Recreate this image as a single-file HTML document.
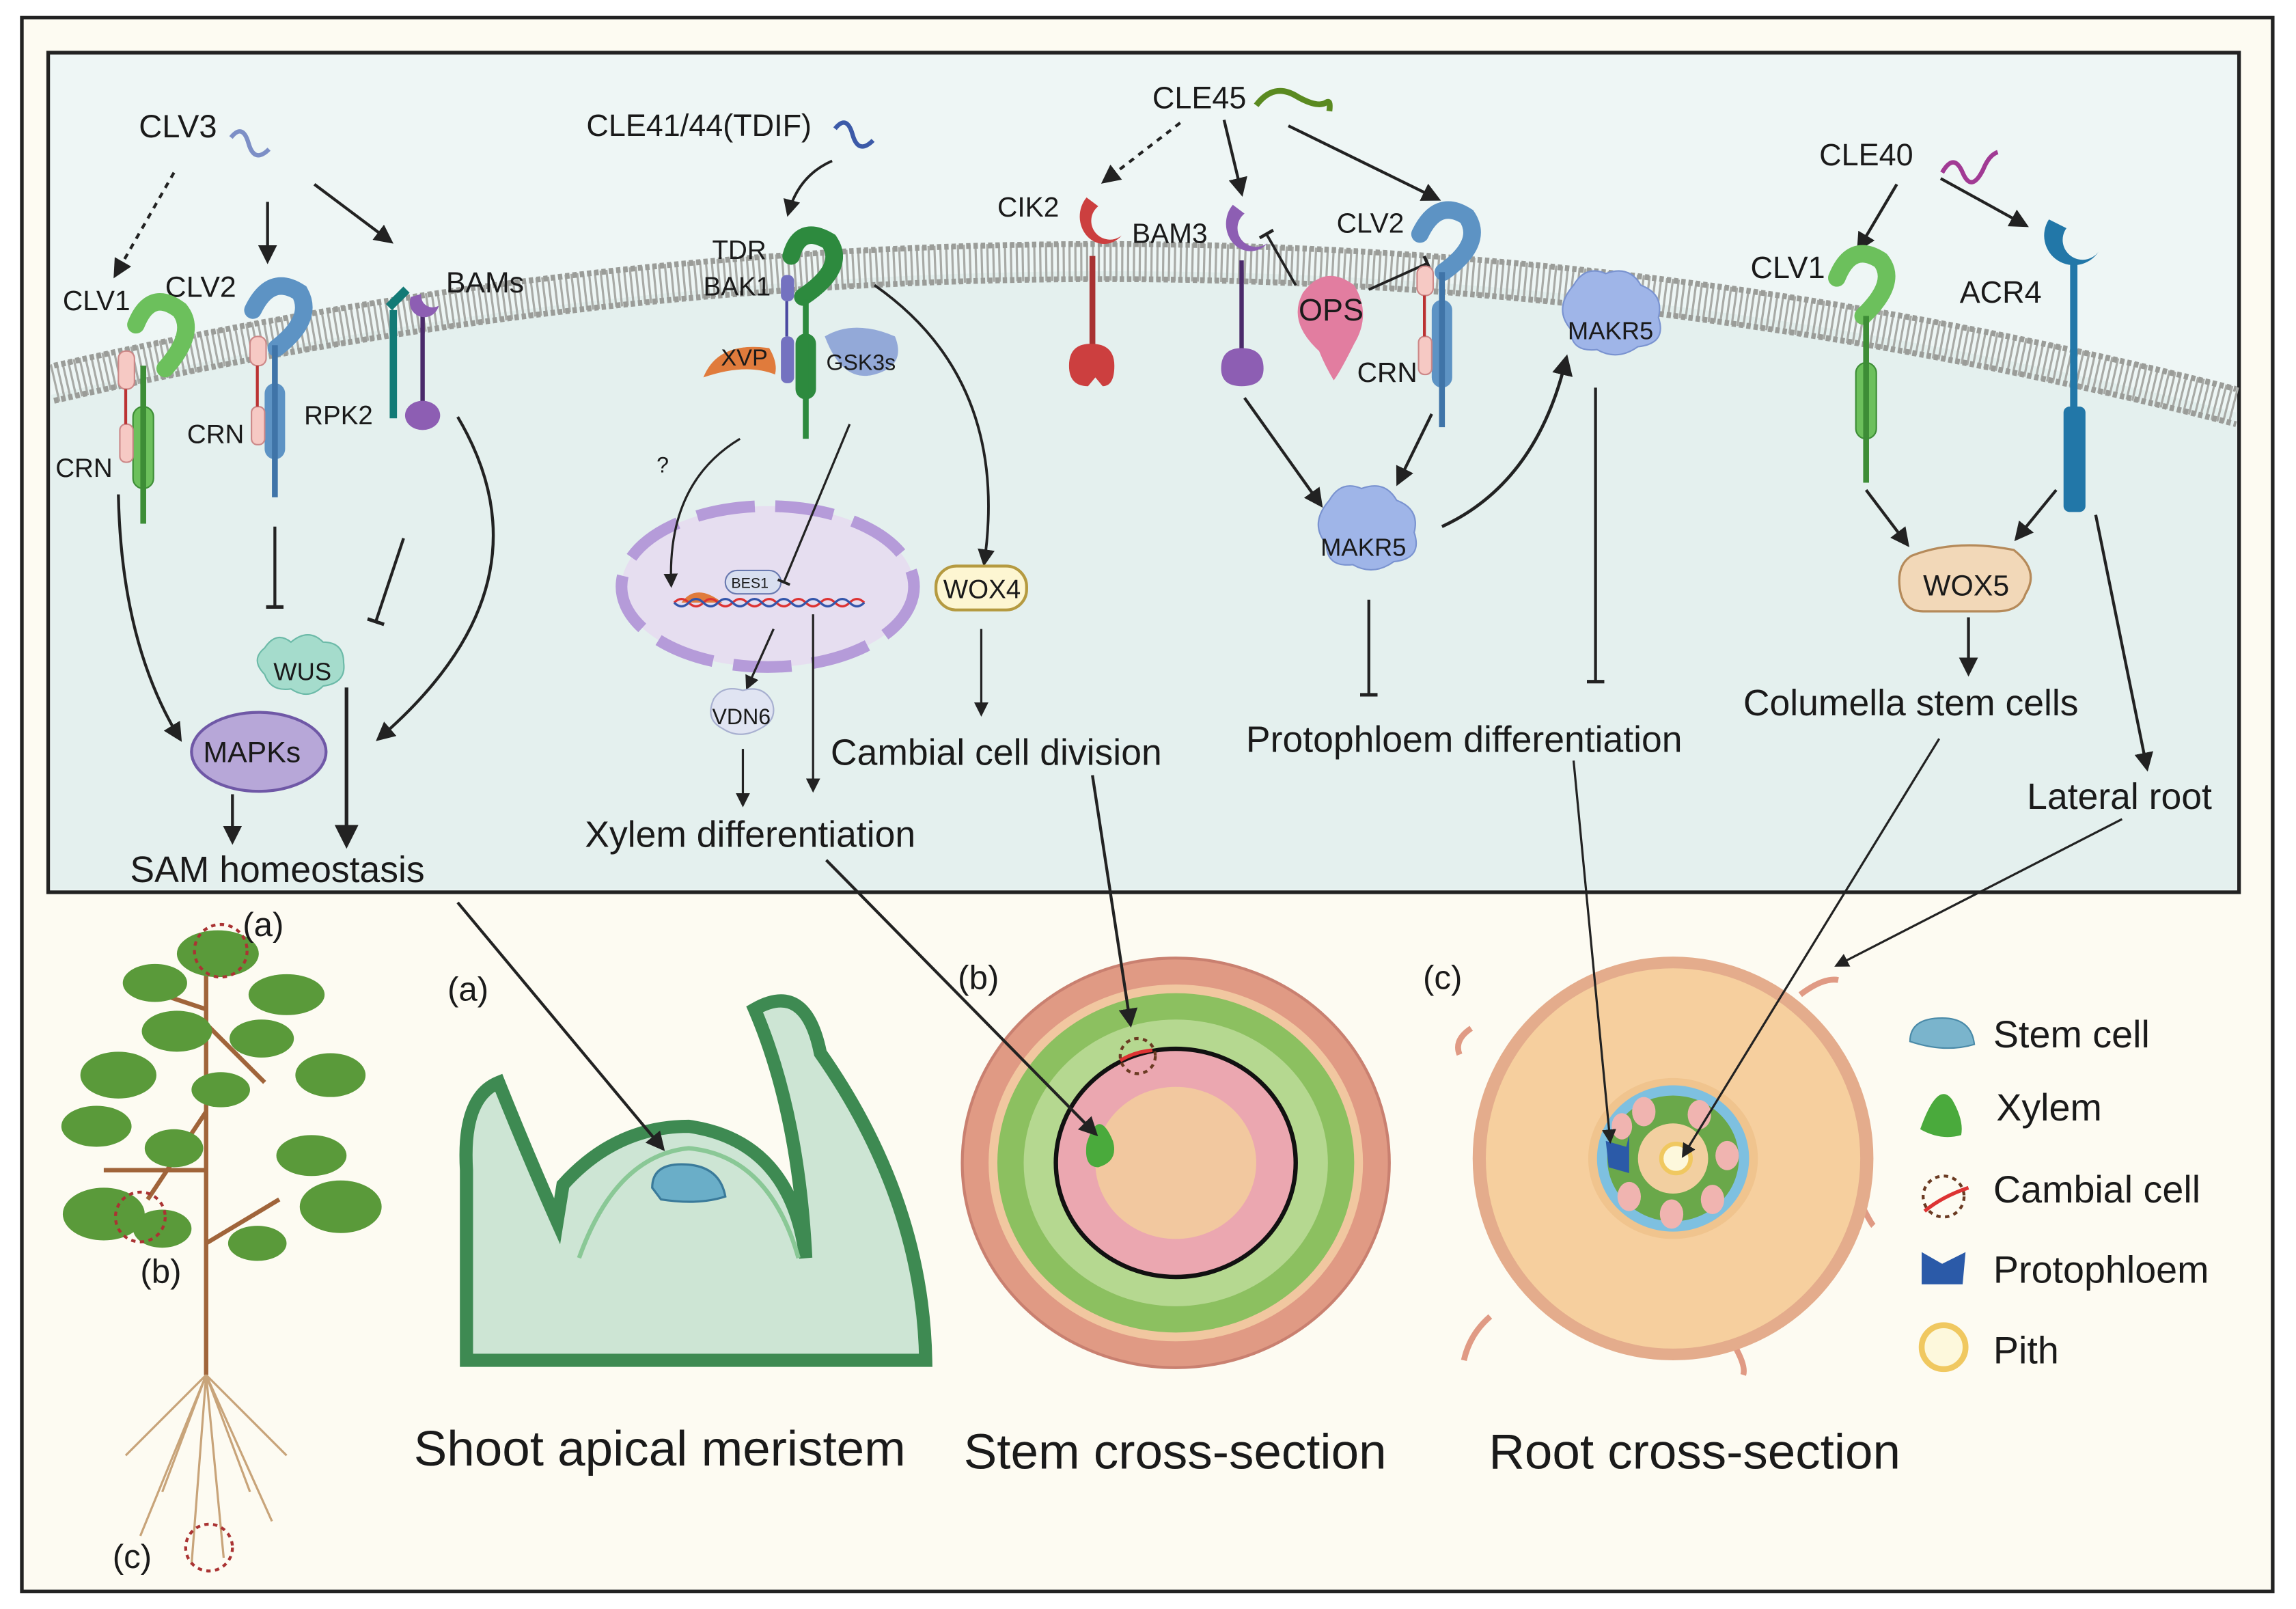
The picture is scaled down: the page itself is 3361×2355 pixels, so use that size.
<!DOCTYPE html>
<html><head><meta charset="utf-8"><style>
html,body{margin:0;padding:0;background:#fff;}
svg{display:block;}
text{font-family:"Liberation Sans",sans-serif;fill:#1a1a1a;}
</style></head><body>
<svg width="3361" height="2355" viewBox="0 0 1568 1100" xmlns="http://www.w3.org/2000/svg">
<defs>
<marker id="ah" viewBox="0 0 10 10" refX="8" refY="5" markerWidth="6.5" markerHeight="6.5" orient="auto"><path d="M0,0 L10,5 L0,10z" fill="#222"/></marker>
<marker id="tb" viewBox="0 0 10 10" refX="5" refY="5" markerWidth="6" markerHeight="6" orient="auto"><path d="M5,0 L5,10" stroke="#222" stroke-width="2"/></marker>
</defs>
<rect x="0" y="0" width="1568" height="1100" fill="#fff"/>
<rect x="14" y="12" width="1539" height="1076" fill="#fdfbf2" stroke="#222" stroke-width="2.5"/>
<rect x="32" y="36" width="1498" height="574" fill="#eef6f5" stroke="#222" stroke-width="2.5"/>
<path d="M34,270 Q790,95 1528,282 L1528,608 L34,608 Z" fill="#e4f0ee"/>
<path d="M36,262 Q790,88 1528,278" fill="none" stroke="#a8aaa6" stroke-width="26" stroke-dasharray="1.5 2.5"/>
<path d="M36,250 Q790,76 1528,266" fill="none" stroke="#9a9c98" stroke-width="4" stroke-dasharray="3 2"/>
<path d="M36,274 Q790,100 1528,290" fill="none" stroke="#9a9c98" stroke-width="4" stroke-dasharray="3 2"/>

<!-- CLV3 section -->
<text x="94" y="94" font-size="22">CLV3</text>
<path d="M157,94 q8,-10 12,4 q4,14 14,4" fill="none" stroke="#7d8fc6" stroke-width="3"/>
<path d="M118,118 L78,188" stroke="#222" stroke-width="2" stroke-dasharray="4 4" marker-end="url(#ah)"/>
<path d="M182,138 L182,178" stroke="#222" stroke-width="2" marker-end="url(#ah)"/>
<path d="M214,126 L266,165" stroke="#222" stroke-width="2" marker-end="url(#ah)"/>
<text x="42" y="212" font-size="19">CLV1</text>
<text x="112" y="203" font-size="20">CLV2</text>
<text x="304" y="200" font-size="20">BAMs</text>
<text x="37" y="326" font-size="18">CRN</text>
<text x="127" y="303" font-size="18">CRN</text>
<text x="207" y="290" font-size="18">RPK2</text>
<path d="M92,222 q10,-25 30,-10 q12,15 -10,40" fill="none" stroke="#6cc05c" stroke-width="12" stroke-linecap="round"/>
<rect x="90" y="278" width="14" height="56" rx="7" fill="#6cc05c" stroke="#3d8d36"/>
<path d="M97,250 L97,358" stroke="#3d8d36" stroke-width="4"/>
<rect x="80" y="240" width="11" height="26" rx="5" fill="#f6c9c4" stroke="#c88"/>
<rect x="81" y="290" width="9" height="26" rx="4" fill="#f6c9c4" stroke="#c88"/>
<path d="M85,266 L85,290" stroke="#b33" stroke-width="2"/>
<path d="M172,212 q12,-25 32,-12 q10,18 -16,38" fill="none" stroke="#5d93c4" stroke-width="12" stroke-linecap="round"/>
<rect x="180" y="262" width="14" height="52" rx="7" fill="#5d93c4"/>
<path d="M187,236 L187,340" stroke="#3f74a8" stroke-width="4"/>
<rect x="170" y="230" width="11" height="20" rx="5" fill="#f6c9c4" stroke="#c88"/>
<rect x="171" y="278" width="9" height="26" rx="4" fill="#f6c9c4" stroke="#c88"/>
<path d="M175,250 L175,278" stroke="#b33" stroke-width="2"/>
<path d="M268,212 L268,286" stroke="#127a76" stroke-width="5"/>
<path d="M265,210 l12,-12" stroke="#127a76" stroke-width="6"/>
<path d="M288,214 L288,282" stroke="#4a2a6a" stroke-width="3"/>
<path d="M280,203 a10,10 0 1 0 19,6 a8,8 0 0 1 -12,-8 z" fill="#8d5eb3"/>
<ellipse cx="288" cy="284" rx="12" ry="10" fill="#8d5eb3"/>
<path d="M80,338 Q82,440 122,505" fill="none" stroke="#222" stroke-width="2" marker-end="url(#ah)"/>
<path d="M187,360 L187,415" stroke="#222" stroke-width="2" marker-end="url(#tb)"/>
<path d="M275,368 L256,425" stroke="#222" stroke-width="2" marker-end="url(#tb)"/>
<path d="M312,285 Q380,400 258,505" fill="none" stroke="#222" stroke-width="2" marker-end="url(#ah)"/>
<path d="M180,443 q8,-12 18,-4 q12,-10 22,0 q14,0 14,14 q2,14 -14,16 q-10,10 -22,2 q-14,2 -18,-10 q-10,-10 0,-18z" fill="#a5dccc" stroke="#6cbaa8"/>
<text x="186" y="465" font-size="17">WUS</text>
<ellipse cx="176" cy="514" rx="46" ry="27" fill="#b7a7d8" stroke="#6f58a6" stroke-width="2"/>
<text x="138" y="521" font-size="20">MAPKs</text>
<path d="M158,543 L158,575" stroke="#222" stroke-width="2" marker-end="url(#ah)"/>
<path d="M236,470 L236,577" stroke="#222" stroke-width="2.5" marker-end="url(#ah)"/>
<text x="88" y="603" font-size="25">SAM homeostasis</text>

<!-- TDIF -->
<text x="400" y="93" font-size="21">CLE41/44(TDIF)</text>
<path d="M570,88 q8,-10 12,4 q4,14 14,4" fill="none" stroke="#3c5aa8" stroke-width="3"/>
<path d="M568,110 Q545,120 538,146" fill="none" stroke="#222" stroke-width="1.8" marker-end="url(#ah)"/>
<text x="486" y="177" font-size="18">TDR</text>
<text x="480" y="202" font-size="18">BAK1</text>
<path d="M540,175 q6,-22 26,-10 q12,18 -18,38" fill="none" stroke="#2d8a3e" stroke-width="12" stroke-linecap="round"/>
<rect x="543" y="228" width="14" height="45" rx="7" fill="#2d8a3e"/>
<path d="M550,205 L550,300" stroke="#2d8a3e" stroke-width="4"/>
<rect x="533" y="188" width="9" height="18" rx="4" fill="#7472c0"/>
<rect x="533" y="230" width="9" height="32" rx="4" fill="#7472c0"/>
<path d="M537,206 L537,230" stroke="#4a48a0" stroke-width="2"/>
<path d="M480,258 q10,-25 45,-20 q6,10 4,18 q-20,-8 -49,2z" fill="#e07b3c"/>
<text x="492" y="250" font-size="16">XVP</text>
<path d="M563,230 q20,-12 48,0 q8,20 -14,26 q-22,6 -34,-26z" fill="#93a9d8"/>
<text x="564" y="253" font-size="15">GSK3s</text>
<ellipse cx="524" cy="401" rx="100" ry="55" fill="#e6def0" stroke="#b59bd9" stroke-width="8" stroke-dasharray="40 14"/>
<path d="M465,412 q10,-14 28,0" fill="#e07b3c"/>
<rect x="495" y="390" width="38" height="16" rx="8" fill="#d8dff0" stroke="#6a7ab0"/>
<text x="499" y="402" font-size="10">BES1</text>
<path d="M460,412 q5,-5 10,0 t10,0 t10,0 t10,0 t10,0 t10,0 t10,0 t10,0 t10,0 t10,0 t10,0 t10,0 t10,0" fill="none" stroke="#d33" stroke-width="1.5"/>
<path d="M460,412 q5,5 10,0 t10,0 t10,0 t10,0 t10,0 t10,0 t10,0 t10,0 t10,0 t10,0 t10,0 t10,0 t10,0" fill="none" stroke="#35a" stroke-width="1.5"/>
<path d="M505,300 Q455,330 458,400" fill="none" stroke="#222" stroke-width="1.5" marker-end="url(#ah)"/>
<text x="448" y="323" font-size="15">?</text>
<path d="M580,290 L535,398" stroke="#222" stroke-width="1.5" marker-end="url(#tb)"/>
<path d="M597,195 Q690,260 672,385" fill="none" stroke="#222" stroke-width="1.8" marker-end="url(#ah)"/>
<rect x="639" y="387" width="62" height="30" rx="14" fill="#fdf6d2" stroke="#b59a40" stroke-width="2"/>
<text x="644" y="409" font-size="18">WOX4</text>
<path d="M528,430 L510,470" stroke="#222" stroke-width="1.5" marker-end="url(#ah)"/>
<path d="M487,478 q6,-10 20,-6 q14,-4 20,8 q4,12 -8,18 q-14,8 -26,0 q-12,-6 -6,-20z" fill="#e0e4f2" stroke="#a8b0d0"/>
<text x="486" y="495" font-size="15">VDN6</text>
<path d="M507,512 L507,550" stroke="#222" stroke-width="1.5" marker-end="url(#ah)"/>
<path d="M555,420 L555,540" stroke="#222" stroke-width="1.5" marker-end="url(#ah)"/>
<path d="M670,430 L670,488" stroke="#222" stroke-width="1.5" marker-end="url(#ah)"/>
<text x="567" y="523" font-size="25">Cambial cell division</text>
<text x="399" y="579" font-size="25">Xylem differentiation</text>

<!-- CLE45 -->
<text x="787" y="74" font-size="21">CLE45</text>
<path d="M858,72 q12,-16 28,-6 q14,8 20,4 q3,-2 2,6" fill="none" stroke="#5a8a20" stroke-width="4"/>
<path d="M806,84 L754,124" stroke="#222" stroke-width="2" stroke-dasharray="4 4" marker-end="url(#ah)"/>
<path d="M836,82 L848,132" stroke="#222" stroke-width="2" marker-end="url(#ah)"/>
<path d="M880,86 L982,136" stroke="#222" stroke-width="2" marker-end="url(#ah)"/>
<text x="681" y="148" font-size="19">CIK2</text>
<text x="773" y="166" font-size="19">BAM3</text>
<text x="913" y="159" font-size="19">CLV2</text>
<text x="927" y="261" font-size="19">CRN</text>
<path d="M742,135 a16,18 0 1 0 24,26 a12,12 0 0 1 -16,-20z" fill="#cc3f3f"/>
<path d="M746,175 L746,238" stroke="#a83232" stroke-width="4"/>
<path d="M730,250 q0,-15 15,-15 q16,0 16,15 q0,14 -8,14 l-5,-6 l-5,6 q-13,0 -13,-14z" fill="#cc3f3f"/>
<path d="M842,140 a16,18 0 1 0 24,26 a12,12 0 0 1 -16,-20z" fill="#8d5eb3"/>
<path d="M848,178 L848,240" stroke="#4a2a6a" stroke-width="3"/>
<path d="M834,252 q0,-14 14,-14 q15,0 15,14 q0,12 -15,12 q-14,0 -14,-12z" fill="#8d5eb3"/>
<path d="M890,200 q15,-20 35,-5 q12,20 0,40 q-10,20 -14,25 q-6,-10 -10,-20 q-22,-20 -11,-40z" fill="#e27da0"/>
<text x="887" y="219" font-size="21">OPS</text>
<path d="M865,160 L885,195" stroke="#222" stroke-width="1.8" marker-start="url(#tb)"/>
<path d="M975,180 L935,198" stroke="#222" stroke-width="1.8" marker-start="url(#tb)"/>
<path d="M970,160 q12,-25 32,-12 q12,18 -16,38" fill="none" stroke="#5d93c4" stroke-width="12" stroke-linecap="round"/>
<rect x="978" y="205" width="14" height="60" rx="7" fill="#5d93c4"/>
<path d="M985,186 L985,292" stroke="#3f74a8" stroke-width="4"/>
<rect x="968" y="182" width="11" height="20" rx="5" fill="#f6c9c4" stroke="#c88"/>
<rect x="969" y="230" width="9" height="26" rx="4" fill="#f6c9c4" stroke="#c88"/>
<path d="M973,202 L973,230" stroke="#b33" stroke-width="2"/>
<path d="M1075,195 q8,-14 22,-8 q16,-6 24,8 q16,6 12,22 q6,18 -14,20 q-14,10 -28,2 q-18,2 -18,-14 q-12,-14 2,-30z" fill="#9fb5e8" stroke="#7a93d0"/>
<text x="1071" y="232" font-size="17">MAKR5</text>
<path d="M908,342 q8,-14 22,-8 q16,-6 24,8 q16,6 12,22 q6,18 -14,20 q-14,10 -28,2 q-18,2 -18,-14 q-12,-14 2,-30z" fill="#9fb5e8" stroke="#7a93d0"/>
<text x="902" y="380" font-size="17">MAKR5</text>
<path d="M850,272 L902,345" stroke="#222" stroke-width="2" marker-end="url(#ah)"/>
<path d="M978,283 L955,330" stroke="#222" stroke-width="2" marker-end="url(#ah)"/>
<path d="M985,360 Q1050,330 1070,245" fill="none" stroke="#222" stroke-width="2.2" marker-end="url(#ah)"/>
<path d="M935,410 L935,475" stroke="#222" stroke-width="2" marker-end="url(#tb)"/>
<path d="M1090,265 L1090,466" stroke="#222" stroke-width="2" marker-end="url(#tb)"/>
<text x="851" y="514" font-size="25">Protophloem differentiation</text>

<!-- CLE40 -->
<text x="1243" y="113" font-size="21">CLE40</text>
<path d="M1327,118 q8,-14 14,0 q6,14 14,-2 q4,-10 10,-12" fill="none" stroke="#a13a94" stroke-width="3"/>
<path d="M1296,126 L1270,170" stroke="#222" stroke-width="2" marker-end="url(#ah)"/>
<path d="M1326,122 L1384,154" stroke="#222" stroke-width="2" marker-end="url(#ah)"/>
<text x="1196" y="190" font-size="21">CLV1</text>
<text x="1339" y="207" font-size="21">ACR4</text>
<path d="M1255,190 q10,-25 30,-12 q12,15 -12,38" fill="none" stroke="#6cc05c" stroke-width="12" stroke-linecap="round"/>
<rect x="1268" y="248" width="14" height="52" rx="7" fill="#6cc05c" stroke="#3d8d36"/>
<path d="M1275,216 L1275,330" stroke="#3d8d36" stroke-width="4"/>
<path d="M1400,150 a20,20 0 1 0 34,22 a12,12 0 0 1 -22,-16 z" fill="#2277a8"/>
<path d="M1417,180 L1417,280" stroke="#2277a8" stroke-width="5"/>
<rect x="1410" y="278" width="15" height="72" rx="4" fill="#2277a8"/>
<path d="M1275,335 L1303,372" stroke="#222" stroke-width="2" marker-end="url(#ah)"/>
<path d="M1405,335 L1378,368" stroke="#222" stroke-width="2" marker-end="url(#ah)"/>
<path d="M1306,380 q30,-12 70,-4 q18,14 8,30 q-4,12 -20,12 l-50,0 q-14,0 -16,-16 q-2,-16 8,-22z" fill="#f2d8b8" stroke="#b58a5a" stroke-width="1.5"/>
<text x="1314" y="407" font-size="20">WOX5</text>
<path d="M1345,422 L1345,460" stroke="#222" stroke-width="2" marker-end="url(#ah)"/>
<text x="1191" y="489" font-size="25">Columella stem cells</text>
<path d="M1432,352 L1467,525" stroke="#222" stroke-width="2" marker-end="url(#ah)"/>
<text x="1385" y="553" font-size="25">Lateral root</text>

<!-- plant -->
<g>
<path d="M140,640 L140,940 M140,760 L100,820 M140,700 L180,740 M140,850 L190,820 M140,690 L110,680 M140,800 L70,800" stroke="#a0643a" stroke-width="3" fill="none"/>
<g fill="#5a9a3a">
<ellipse cx="148" cy="652" rx="28" ry="16"/><ellipse cx="105" cy="672" rx="22" ry="13"/><ellipse cx="195" cy="680" rx="26" ry="14"/>
<ellipse cx="120" cy="705" rx="24" ry="14"/><ellipse cx="178" cy="710" rx="22" ry="13"/><ellipse cx="80" cy="735" rx="26" ry="16"/>
<ellipse cx="225" cy="735" rx="24" ry="15"/><ellipse cx="150" cy="745" rx="20" ry="12"/><ellipse cx="65" cy="770" rx="24" ry="14"/>
<ellipse cx="118" cy="785" rx="20" ry="13"/><ellipse cx="212" cy="790" rx="24" ry="14"/><ellipse cx="70" cy="830" rx="28" ry="18"/>
<ellipse cx="232" cy="825" rx="28" ry="18"/><ellipse cx="175" cy="850" rx="20" ry="12"/><ellipse cx="110" cy="840" rx="20" ry="13"/>
</g>
<path d="M140,940 l-30,80 M140,940 l30,80 M140,940 l-55,55 M140,940 l55,55 M140,940 l-10,130 M140,940 l12,125 M140,940 l-45,110 M140,940 l45,100" stroke="#c8a47a" stroke-width="1.5" fill="none"/>
<circle cx="150" cy="650" r="18" fill="none" stroke="#a33" stroke-width="2" stroke-dasharray="3 3"/>
<circle cx="95" cy="832" r="17" fill="none" stroke="#a33" stroke-width="2" stroke-dasharray="3 3"/>
<circle cx="142" cy="1058" r="16" fill="none" stroke="#a33" stroke-width="2" stroke-dasharray="3 3"/>
<text x="165" y="640" font-size="23">(a)</text>
<text x="95" y="877" font-size="23">(b)</text>
<text x="76" y="1072" font-size="23">(c)</text>
</g>

<!-- SAM -->
<path d="M318,930 L318,800 Q315,750 340,740 Q360,790 380,835 L384,810 Q420,770 470,770 Q540,780 550,860 Q545,760 515,690 Q550,670 560,720 Q630,820 632,930 Z" fill="#cde5d4" stroke="#3e8a52" stroke-width="9"/>
<path d="M395,860 Q420,790 470,785 Q525,790 545,860" fill="none" stroke="#8ac896" stroke-width="3"/>
<path d="M445,812 q0,-16 20,-16 q26,0 30,22 q-18,6 -44,2z" fill="#6aaec8" stroke="#3a7a9a" stroke-width="1.5"/>
<text x="305" y="684" font-size="23">(a)</text>
<text x="282" y="1002" font-size="34">Shoot apical meristem</text>

<!-- stem -->
<text x="654" y="676" font-size="23">(b)</text>
<ellipse cx="803" cy="795" rx="146" ry="140" fill="#e09a84" stroke="#c98070" stroke-width="2"/>
<ellipse cx="803" cy="795" rx="128" ry="122" fill="#f1c7a0"/>
<ellipse cx="803" cy="795" rx="122" ry="116" fill="#8cc060"/>
<ellipse cx="803" cy="795" rx="104" ry="98" fill="#b5d890"/>
<ellipse cx="803" cy="795" rx="82" ry="78" fill="#eba7b0" stroke="#111" stroke-width="3"/>
<ellipse cx="803" cy="795" rx="55" ry="52" fill="#f2c89f"/>
<path d="M742,782 q8,-26 18,-2 q4,14 -10,18 q-10,0 -8,-16z" fill="#4aaa3c"/>
<path d="M765,725 q10,-6 22,-7" stroke="#d33" stroke-width="2.5" fill="none"/>
<circle cx="777" cy="722" r="12" fill="none" stroke="#6a3a22" stroke-width="2" stroke-dasharray="3 3"/>
<text x="658" y="1004" font-size="34">Stem cross-section</text>

<!-- root -->
<text x="972" y="676" font-size="23">(c)</text>
<path d="M1005,703 q-12,8 -8,18 M1230,680 q16,-12 26,-10 M1270,820 q8,16 10,18 M1018,900 q-14,12 -18,30 M1185,920 q8,14 6,20" stroke="#e09a84" stroke-width="4" fill="none"/>
<ellipse cx="1143" cy="792" rx="137" ry="138" fill="#e4ac8c"/>
<ellipse cx="1143" cy="792" rx="128" ry="130" fill="#f6cf9e"/>
<ellipse cx="1143" cy="792" rx="58" ry="55" fill="#f0c48e"/>
<ellipse cx="1143" cy="792" rx="52" ry="50" fill="#7ec0e0"/>
<ellipse cx="1143" cy="792" rx="45" ry="43" fill="#6aa84a"/>
<ellipse cx="1143" cy="792" rx="24" ry="24" fill="#f2cfa0"/>
<g fill="#f0b4b0"><ellipse cx="1123" cy="760" rx="8" ry="10"/><ellipse cx="1161" cy="762" rx="8" ry="10"/><ellipse cx="1180" cy="790" rx="8" ry="10"/><ellipse cx="1170" cy="820" rx="8" ry="10"/><ellipse cx="1142" cy="830" rx="8" ry="10"/><ellipse cx="1113" cy="818" rx="8" ry="10"/><ellipse cx="1108" cy="770" rx="7" ry="9"/></g>
<path d="M1097,780 l14,4 l2,-8 l0,26 l-14,-4 z" fill="#2b5aa8"/>
<circle cx="1145" cy="792" r="10" fill="#fdf8dc" stroke="#f0c860" stroke-width="3"/>
<text x="1017" y="1004" font-size="34">Root cross-section</text>

<!-- legend -->
<path d="M1305,712 q0,-16 22,-16 q20,0 22,18 q-20,6 -44,-2z" fill="#7ab4cc" stroke="#4a8aa8"/>
<text x="1362" y="716" font-size="26">Stem cell</text>
<path d="M1312,772 q12,-34 22,-20 q8,14 6,24 q-14,4 -28,-4z" fill="#4aaa3c"/>
<text x="1364" y="766" font-size="26">Xylem</text>
<circle cx="1328" cy="818" r="14" fill="none" stroke="#6a3a22" stroke-width="2" stroke-dasharray="3 3"/>
<path d="M1315,828 q12,-10 30,-16" stroke="#d33" stroke-width="2.5" fill="none"/>
<text x="1362" y="822" font-size="26">Cambial cell</text>
<path d="M1313,856 l14,8 l16,-8 l-2,22 l-28,0 z" fill="#2b5aa8"/>
<text x="1362" y="877" font-size="26">Protophloem</text>
<circle cx="1328" cy="921" r="15" fill="#fdf8dc" stroke="#f0c860" stroke-width="4"/>
<text x="1362" y="932" font-size="26">Pith</text>

<!-- connectors (drawn last so arrowheads are on top) -->
<path d="M312,617 L452,785" stroke="#222" stroke-width="2" marker-end="url(#ah)"/>
<path d="M564,588 L748,775" stroke="#222" stroke-width="2" marker-end="url(#ah)"/>
<path d="M746,530 L772,700" stroke="#222" stroke-width="2" marker-end="url(#ah)"/>
<path d="M1075,520 L1100,780" stroke="#222" stroke-width="1.5" marker-end="url(#ah)"/>
<path d="M1325,505 L1150,790" stroke="#222" stroke-width="1.5" marker-end="url(#ah)"/>
<path d="M1450,560 L1255,660" stroke="#222" stroke-width="1.5" marker-end="url(#ah)"/>
</svg>
</body></html>
